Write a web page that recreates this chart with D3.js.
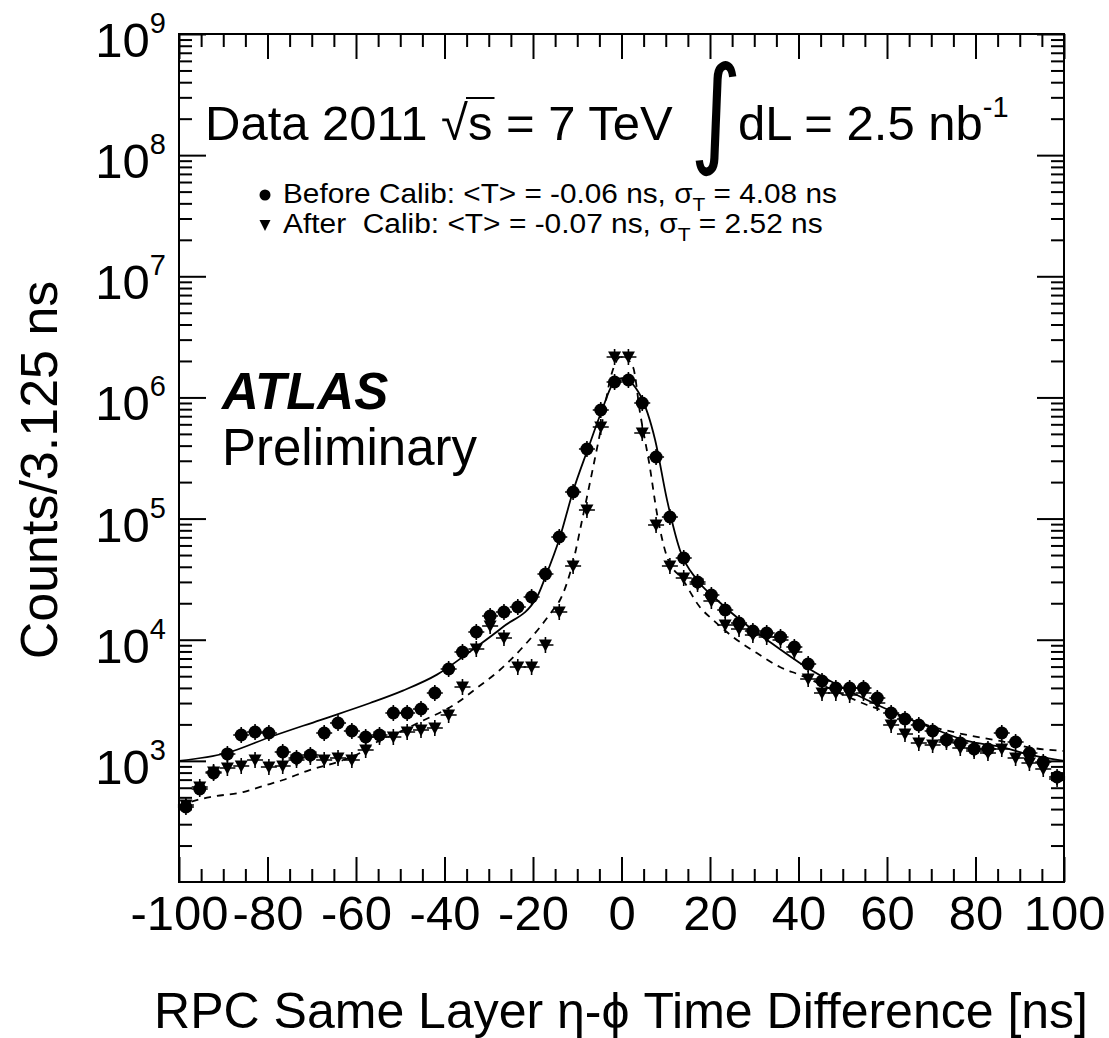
<!DOCTYPE html>
<html>
<head>
<meta charset="utf-8">
<script src="https://cdn.jsdelivr.net/npm/d3@7"></script>
<style>
    body { margin: 0; background: #fff; }
    svg { display: block; font-family: "Liberation Sans", Arial, Helvetica, sans-serif; }
</style>
</head>
<body>
<svg id="chart" width="1109" height="1038"></svg>
<script>
// bins of 3.125 ns from -100 to 100 ns
const binWidth = 3.125;
const binCenters = d3.range(-100 + binWidth / 2, 100, binWidth);

// counts per bin
const beforeCounts = [416, 586, 794, 1140, 1635, 1730, 1698, 1184, 1056, 1118,
    1698, 2054, 1764, 1574, 1635, 2483, 2483, 2680, 3631, 5731,
    7917, 11580, 15700, 16930, 18620, 22520, 34860, 70450, 165700, 375200,
    787500, 1341000, 1393000, 899500, 322300, 103000, 47270, 29960, 23390, 17590,
    13740, 11800, 11360, 10530, 8710, 6304, 4563, 3994, 3994, 3994,
    3304, 2483, 2216, 1977, 1764, 1486, 1404, 1253, 1253, 1698,
    1431, 1161, 979, 736];

const afterCounts = [432, 608, 809, 873, 907, 1016, 890, 907, 1016, 1076,
    1016, 1056, 1016, 1229, 1574, 1574, 1730, 1798, 1867, 2391,
    4071, 8382, 12980, 10330, 5953, 5953, 9045, 16930, 40610, 117700,
    570200, 2157000, 2157000, 508700, 88520, 40610, 32320, 28840, 20870, 13230,
    12260, 10940, 10530, 9947, 7917, 4740, 3631, 3631, 3497, 3631,
    3002, 1977, 1666, 1404, 1352, 1431, 1277, 1206, 1161, 1253,
    1056, 960, 857, 708];

// fit curves, sampled along the drawn lines
const fitBeforeX = [-100, -89.2, -79.4, -68.1, -56.8, -49.4, -41.7, -34.2, -26.8, -19.1,
    -17.2, -13.9, -11.0, -7.6, -4.4, -2.1, 0.1, 4.2, 7.6, 10.3,
    13.2, 17.1, 21.6, 26.8, 32.9, 40.3, 47.8, 55.5, 62.9, 70.4,
    78.1, 85.5, 93.0, 100];
const fitBeforeY = [1000, 1161, 1574, 2173, 3002, 3800, 5150, 8000, 12730, 22520,
    33000, 70450, 165700, 375000, 787000, 1267000, 1446000, 1047000, 445600, 142000,
    55100, 31100, 21280, 14550, 9950, 6430, 4430, 3177, 2390, 1850,
    1460, 1310, 1110, 1000];

const fitAfterX = [-100, -93.0, -85.5, -81.0, -76.5, -71.1, -62.9, -59.1, -55.3, -50.7,
    -45.5, -37.2, -32.7, -27.5, -22.9, -18.4, -15.5, -13.9, -11.0, -8.9,
    -6.4, -4.4, -2.6, 0.1, 2.6, 4.2, 6.4, 8.0, 10.3, 13.9,
    17.7, 20.7, 25.2, 30.6, 35.8, 40.3, 47.8, 55.5, 62.9, 70.4,
    78.1, 85.5, 93.0, 100];
const fitAfterY = [432, 503, 553, 620, 695, 824, 1016, 1161, 1431, 1698,
    2094, 3002, 3994, 5623, 8225, 12730, 17590, 21280, 43000, 97300,
    266700, 615000, 1393000, 2198000, 1783000, 744000, 266700, 111100, 48170, 31100,
    18620, 14550, 10530, 7764, 5953, 5117, 3846, 2891, 2344, 1904,
    1635, 1459, 1277, 1206];

const xMajor = [-100, -80, -60, -40, -20, 0, 20, 40, 60, 80, 100];
const yDecades = [3, 4, 5, 6, 7, 8, 9];

const plotLeft = 179, plotRight = 1064, plotTop = 34, plotBottom = 882;

const svg = d3.select("#chart");
svg.append("rect").attr("width", 1109).attr("height", 1038).attr("fill", "#fff");

const x = d3.scaleLinear().domain([-100, 100]).range([plotLeft, plotRight]);
const y = d3.scaleLog().domain([1e2, 1e9]).range([plotBottom, plotTop]);

const xMinor = d3.range(-100, 100.1, 5).filter(v => !xMajor.includes(v));
const yMinor = y.ticks().filter(v => Math.abs(Math.log10(v) % 1) > 1e-6);
const yMajor = yDecades.map(e => Math.pow(10, e));

function tickAxis(axis, values, size, transform) {
    const g = svg.append("g")
        .attr("transform", transform)
        .call(axis.tickValues(values).tickSize(size).tickFormat(""));
    g.select(".domain").remove();
    g.selectAll("line").attr("stroke", "#000").attr("stroke-width", 2);
    return g;
}

// ticks on all four sides, pointing inward
tickAxis(d3.axisBottom(x), xMajor, -25, `translate(0,${plotBottom})`);
tickAxis(d3.axisBottom(x), xMinor, -13, `translate(0,${plotBottom})`);
tickAxis(d3.axisTop(x), xMajor, -25, `translate(0,${plotTop})`);
tickAxis(d3.axisTop(x), xMinor, -13, `translate(0,${plotTop})`);
tickAxis(d3.axisLeft(y), yMajor, -27, `translate(${plotLeft},0)`);
tickAxis(d3.axisLeft(y), yMinor, -13, `translate(${plotLeft},0)`);
tickAxis(d3.axisRight(y), yMajor, -27, `translate(${plotRight},0)`);
tickAxis(d3.axisRight(y), yMinor, -13, `translate(${plotRight},0)`);

// x tick labels
const xLab = svg.append("g")
    .attr("transform", `translate(0,${plotBottom})`)
    .call(d3.axisBottom(x).tickValues(xMajor).tickSize(0).tickPadding(13).tickFormat(d3.format("d")));
xLab.select(".domain").remove();
xLab.selectAll("text")
    .attr("font-size", 49)
    .attr("font-family", "'Liberation Sans', Arial, sans-serif")
    .attr("fill", "#000")
    .text(d => d < 0 ? "-" + Math.abs(d) : d);

// y tick labels as 10^n
const yLab = svg.append("g");
yDecades.forEach(e => {
    const t = yLab.append("text")
        .attr("x", 166)
        .attr("y", y(Math.pow(10, e)) + 23)
        .attr("text-anchor", "end")
        .attr("font-size", 49);
    t.append("tspan").text("10");
    t.append("tspan").attr("font-size", 29).attr("dy", -24).text(e);
});

// frame
svg.append("rect")
    .attr("x", plotLeft).attr("y", plotTop)
    .attr("width", plotRight - plotLeft).attr("height", plotBottom - plotTop)
    .attr("fill", "none").attr("stroke", "#000").attr("stroke-width", 2);

// fit curves
const line = d3.line()
    .x(d => x(d[0]))
    .y(d => y(d[1]))
    .curve(d3.curveMonotoneX);

svg.append("path")
    .datum(d3.zip(fitBeforeX, fitBeforeY))
    .attr("d", line)
    .attr("fill", "none").attr("stroke", "#000").attr("stroke-width", 1.8);

svg.append("path")
    .datum(d3.zip(fitAfterX, fitAfterY))
    .attr("d", line)
    .attr("fill", "none").attr("stroke", "#000").attr("stroke-width", 1.8)
    .attr("stroke-dasharray", "7,6");

// data points with small error bars
const triDown = "M-6.5,-5.5L6.5,-5.5L0,6.5Z";

function drawPoints(counts, shape) {
    const g = svg.append("g");
    const pts = g.selectAll("g").data(d3.zip(binCenters, counts)).join("g")
        .attr("transform", d => `translate(${x(d[0])},${y(d[1])})`);
    pts.append("path")
        .attr("d", "M-8,0H8M0,-8V8")
        .attr("stroke", "#000").attr("stroke-width", 1.6);
    if (shape === "circle") {
        pts.append("circle").attr("r", 6.5).attr("fill", "#000");
    } else {
        pts.append("path").attr("d", triDown).attr("fill", "#000");
    }
}
drawPoints(afterCounts, "triangle");
drawPoints(beforeCounts, "circle");

// title line
const title1 = svg.append("text")
    .attr("x", 205).attr("y", 140)
    .attr("font-size", 49)
    .text("Data 2011 \u221As = 7 TeV");
const n1 = title1.node();
const rootBox = n1.getExtentOfChar(10);
const sBox = n1.getExtentOfChar(11);
svg.append("line")
    .attr("x1", rootBox.x + rootBox.width - 2)
    .attr("x2", sBox.x + sBox.width + 2)
    .attr("y1", 98).attr("y2", 98)
    .attr("stroke", "#000").attr("stroke-width", 2);

svg.append("text")
    .attr("transform", "translate(690,151) scale(1,1.19)")
    .attr("font-family", "'DejaVu Sans', sans-serif")
    .attr("font-size", 100)
    .text("\u222B");

const title2 = svg.append("text")
    .attr("x", 738).attr("y", 140)
    .attr("font-size", 49);
title2.append("tspan").text("dL = 2.5 nb");
title2.append("tspan").attr("font-size", 29).attr("dy", -23).text("-1");

// legend
const legend = [
    {shape: "circle", label: "Before Calib: <T> = -0.06 ns, \u03C3", val: " = 4.08 ns", y: 203},
    {shape: "triangle", label: "After\u00A0 Calib: <T> = -0.07 ns, \u03C3", val: " = 2.52 ns", y: 233}
];
legend.forEach(l => {
    if (l.shape === "circle") {
        svg.append("circle").attr("cx", 265).attr("cy", l.y - 8).attr("r", 5.5);
    } else {
        svg.append("path").attr("d", "M-5.5,-5L5.5,-5L0,6Z")
            .attr("transform", `translate(265,${l.y - 8})`);
    }
    const g = svg.append("g").attr("transform", `translate(283,${l.y})`);
    const t = g.append("text").attr("font-size", 27);
    t.append("tspan").text(l.label);
    t.append("tspan").attr("font-size", 19).attr("dy", 8).text("T");
    t.append("tspan").attr("dy", -8).text(l.val);
    const w = t.node().getComputedTextLength();
    g.attr("transform", `translate(283,${l.y}) scale(${(l.shape === "circle" ? 554 : 540) / w},1)`);
});

// ATLAS Preliminary
svg.append("text")
    .attr("x", 222).attr("y", 409)
    .attr("font-size", 51)
    .attr("font-weight", "bold")
    .attr("font-style", "italic")
    .text("ATLAS");
svg.append("text")
    .attr("x", 222).attr("y", 465)
    .attr("font-size", 51)
    .text("Preliminary");

// axis titles
svg.append("text")
    .attr("transform", "translate(57,470) rotate(-90)")
    .attr("text-anchor", "middle")
    .attr("font-size", 52)
    .text("Counts/3.125 ns");

svg.append("text")
    .attr("x", 1088).attr("y", 1028)
    .attr("text-anchor", "end")
    .attr("font-size", 50)
    .text("RPC Same Layer \u03B7-\u03D5 Time Difference [ns]");
</script>
</body>
</html>
